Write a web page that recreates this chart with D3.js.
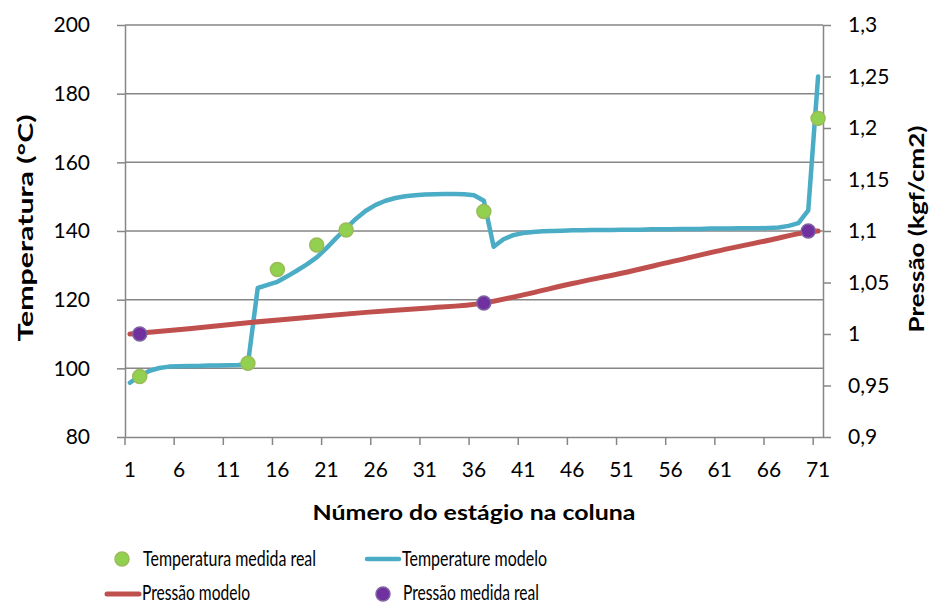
<!doctype html>
<html>
<head>
<meta charset="utf-8">
<script src="https://d3js.org/d3.v7.min.js"></script>
<style>
body {margin: 0; background: #fff;}
svg text {font-family: Lato, "Open Sans", sans-serif; fill: #000;}
</style>
</head>
<body>
<svg id="chart" width="932" height="606"></svg>
<script>
// stages 1..71 on the category axis
var stages = d3.range(1, 72);
var xLabels = [1, 6, 11, 16, 21, 26, 31, 36, 41, 46, 51, 56, 61, 66, 71];
var tempTicks = [80, 100, 120, 140, 160, 180, 200];
var pressTicks = [0.9, 0.95, 1, 1.05, 1.1, 1.15, 1.2, 1.25, 1.3];

// Temperature modelo, one value per stage
var tempModel = [
  95.8, 97.8, 99.3, 100.1, 100.5, 100.6, 100.7, 100.7, 100.8, 100.8,
  100.9, 101.0, 101.2, 123.4, 124.3, 125.2, 126.8, 128.5, 130.3, 132.3,
  135.0, 138.0, 140.8, 143.6, 145.9, 147.6, 148.8, 149.6, 150.1, 150.4,
  150.6, 150.7, 150.8, 150.8, 150.7, 150.4, 148.8, 135.4, 137.6, 138.8,
  139.4, 139.7, 139.9, 140.0, 140.1, 140.2, 140.2, 140.3, 140.3, 140.3,
  140.4, 140.4, 140.4, 140.5, 140.5, 140.5, 140.6, 140.6, 140.6, 140.7,
  140.7, 140.7, 140.8, 140.8, 140.8, 140.9, 141.0, 141.5, 142.3, 146.0,
  185.0
];

// Pressão modelo
var pressModelStages = [1, 7, 13, 19, 25, 31, 37, 41, 46, 51, 56, 61, 66, 70, 71];
var pressModel = [1.000, 1.005, 1.011, 1.016, 1.021, 1.025, 1.030, 1.038, 1.049, 1.059, 1.070, 1.081, 1.091, 1.099, 1.100];

// measured points
var tempMeasStages = [2, 13, 16, 20, 23, 37, 71];
var tempMeas = [97.6, 101.5, 128.8, 135.9, 140.3, 145.7, 172.8];
var pressMeasStages = [2, 37, 70];
var pressMeas = [1.0, 1.03, 1.1];

var svg = d3.select("#chart");
var plotL = 125, plotR = 823, plotT = 25, plotB = 437;
var axisColor = "#868686";

var x = d3.scaleBand().domain(stages).range([plotL, plotR]);
var bw = x.bandwidth();
var cx = function(s) { return x(s) + bw / 2; };
var y = d3.scaleLinear().domain([80, 200]).range([plotB, plotT]);
var y2 = d3.scaleLinear().domain([0.9, 1.3]).range([plotB, plotT]);

// gridlines
svg.append("g").selectAll("line")
  .data(tempTicks.slice(1))
  .enter().append("line")
  .attr("x1", plotL).attr("x2", plotR)
  .attr("y1", function(d) { return y(d); })
  .attr("y2", function(d) { return y(d); })
  .style("stroke", axisColor).style("stroke-width", 1.5);

// left axis
var gl = svg.append("g")
  .attr("transform", "translate(" + plotL + ",0)")
  .call(d3.axisLeft(y).tickValues(tempTicks).tickSize(8).tickSizeOuter(0).tickPadding(27));
// right axis
var gr = svg.append("g")
  .attr("transform", "translate(" + plotR + ",0)")
  .call(d3.axisRight(y2).tickValues(pressTicks).tickSize(8).tickSizeOuter(0).tickPadding(17)
    .tickFormat(function(d) { return String(+d.toFixed(2)).replace(".", ","); }));
// bottom axis
var gb = svg.append("g")
  .attr("transform", "translate(0," + plotB + ")")
  .call(d3.axisBottom(x).tickValues(xLabels).tickSize(8).tickSizeOuter(0).tickPadding(17));
gb.selectAll(".tick line").attr("x1", -bw / 2).attr("x2", -bw / 2);

[gl, gr, gb].forEach(function(g) {
  g.select(".domain").style("stroke", axisColor).style("stroke-width", 1.5);
  g.selectAll(".tick line").style("stroke", axisColor).style("stroke-width", 1.5);
  g.selectAll(".tick text").style("font-size", "21px").style("font-family", "Lato").attr("fill", "#000");
});

// temperature model line
svg.append("path")
  .datum(tempModel)
  .attr("d", d3.line().x(function(d, i) { return cx(stages[i]); }).y(function(d) { return y(d); }))
  .style("fill", "none").style("stroke", "#4BACC6").style("stroke-width", 4.5)
  .style("stroke-linejoin", "round").style("stroke-linecap", "round");

// measured temperature
svg.append("g").selectAll("circle")
  .data(tempMeas)
  .enter().append("circle")
  .attr("cx", function(d, i) { return cx(tempMeasStages[i]); })
  .attr("cy", function(d) { return y(d); })
  .attr("r", 7)
  .style("fill", "#92D050").style("stroke", "#9BBB59").style("stroke-width", 1.5);

// pressure model line
svg.append("path")
  .datum(pressModel)
  .attr("d", d3.line().curve(d3.curveMonotoneX)
    .x(function(d, i) { return cx(pressModelStages[i]); }).y(function(d) { return y2(d); }))
  .style("fill", "none").style("stroke", "#C0504D").style("stroke-width", 5)
  .style("stroke-linejoin", "round").style("stroke-linecap", "round");

// measured pressure
svg.append("g").selectAll("circle")
  .data(pressMeas)
  .enter().append("circle")
  .attr("cx", function(d, i) { return cx(pressMeasStages[i]); })
  .attr("cy", function(d) { return y2(d); })
  .attr("r", 7)
  .style("fill", "#7030A0").style("stroke", "#8064A2").style("stroke-width", 1.5);

// axis titles
svg.append("text")
  .attr("transform", "translate(33,228) rotate(-90)")
  .attr("text-anchor", "middle")
  .attr("textLength", 227).attr("lengthAdjust", "spacingAndGlyphs")
  .style("font-size", "20px").style("font-weight", "bold")
  .text("Temperatura (°C)");

svg.append("text")
  .attr("transform", "translate(924,229) rotate(-90)")
  .attr("text-anchor", "middle")
  .attr("textLength", 207).attr("lengthAdjust", "spacingAndGlyphs")
  .style("font-size", "20px").style("font-weight", "bold")
  .text("Pressão (kgf/cm2)");

svg.append("text")
  .attr("x", 474).attr("y", 520)
  .attr("text-anchor", "middle")
  .attr("textLength", 323).attr("lengthAdjust", "spacingAndGlyphs")
  .style("font-size", "20px").style("font-weight", "bold")
  .text("Número do estágio na coluna");

// legend
var lg = svg.append("g");
lg.append("circle").attr("cx", 122).attr("cy", 559).attr("r", 7)
  .style("fill", "#92D050").style("stroke", "#9BBB59").style("stroke-width", 1.5);
lg.append("text").attr("x", 143).attr("y", 566)
  .attr("textLength", 173).attr("lengthAdjust", "spacingAndGlyphs")
  .style("font-size", "22px").text("Temperatura medida real");

lg.append("line").attr("x1", 367).attr("x2", 399).attr("y1", 559).attr("y2", 559)
  .style("stroke", "#4BACC6").style("stroke-width", 4.5).style("stroke-linecap", "round");
lg.append("text").attr("x", 402).attr("y", 566)
  .attr("textLength", 145).attr("lengthAdjust", "spacingAndGlyphs")
  .style("font-size", "22px").text("Temperature modelo");

lg.append("line").attr("x1", 107).attr("x2", 139).attr("y1", 594).attr("y2", 594)
  .style("stroke", "#C0504D").style("stroke-width", 5).style("stroke-linecap", "round");
lg.append("text").attr("x", 142).attr("y", 600)
  .attr("textLength", 108).attr("lengthAdjust", "spacingAndGlyphs")
  .style("font-size", "22px").text("Pressão modelo");

lg.append("circle").attr("cx", 383).attr("cy", 594).attr("r", 7)
  .style("fill", "#7030A0").style("stroke", "#8064A2").style("stroke-width", 1.5);
lg.append("text").attr("x", 403).attr("y", 600)
  .attr("textLength", 136).attr("lengthAdjust", "spacingAndGlyphs")
  .style("font-size", "22px").text("Pressão medida real");
</script>
</body>
</html>
